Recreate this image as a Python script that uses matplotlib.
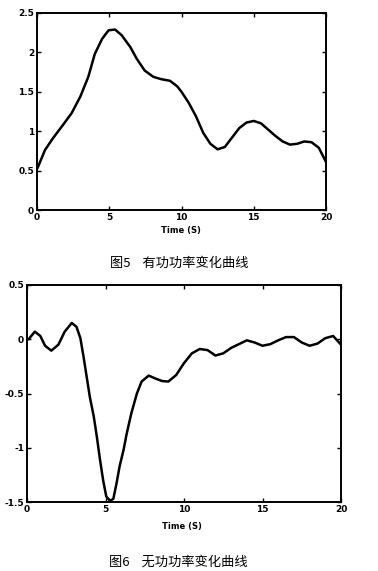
import matplotlib
matplotlib.use("Agg")
import matplotlib.pyplot as plt

plt.rcParams['font.family'] = ['Noto Sans CJK SC', 'DejaVu Sans']

# Figure 5: active power
t_p = [0, 0.1, 0.55, 1.1, 1.8, 2.4, 3.0, 3.55, 4.0, 4.5, 4.95, 5.4, 5.85, 6.45, 6.9, 7.45,
       8.05, 8.6, 9.2, 9.7, 10, 10.5, 11, 11.5, 12, 12.5, 13, 13.5, 14, 14.5, 15, 15.5,
       16, 16.5, 17, 17.5, 18, 18.5, 19, 19.5, 20]
p_vals = [0.52, 0.56, 0.76, 0.91, 1.08, 1.23, 1.44, 1.69, 1.98, 2.17, 2.28, 2.29, 2.22, 2.07,
          1.92, 1.77, 1.69, 1.66, 1.64, 1.57, 1.50, 1.36, 1.19, 0.98, 0.84, 0.77, 0.80, 0.92,
          1.04, 1.11, 1.13, 1.10, 1.02, 0.94, 0.87, 0.83, 0.84, 0.87, 0.86, 0.79, 0.61]

# Figure 6: reactive power
t_q = [0, 0.1, 0.5, 0.85, 1.15, 1.55, 2.0, 2.4, 2.85, 3.15, 3.4, 3.6, 3.8, 4.0, 4.25, 4.45,
       4.65, 4.85, 5.05, 5.3, 5.5, 5.7, 5.9, 6.15, 6.35, 6.65, 7.0, 7.3, 7.75, 8.15, 8.6,
       9.0, 9.5, 10, 10.5, 11, 11.5, 12, 12.5, 13, 13.5, 14, 14.5, 15, 15.5, 16, 16.5, 17,
       17.5, 18, 18.5, 19, 19.5, 20]
q_vals = [0.0, 0.0, 0.07, 0.03, -0.06, -0.105, -0.05, 0.07, 0.15, 0.115, 0.01, -0.16, -0.345,
          -0.53, -0.71, -0.90, -1.11, -1.30, -1.45, -1.49, -1.47, -1.33, -1.17, -1.02, -0.87,
          -0.68, -0.50, -0.39, -0.335, -0.36, -0.385, -0.39, -0.33, -0.22, -0.13, -0.09, -0.10,
          -0.15, -0.13, -0.08, -0.045, -0.01, -0.03, -0.06, -0.045, -0.01, 0.02, 0.02, -0.03,
          -0.06, -0.04, 0.01, 0.03, -0.05]

x_ticks = [0, 5, 10, 15, 20]
p_yticks = [0, 0.5, 1, 1.5, 2, 2.5]
p_ylabels = ['0', '0.5', '1', '1.5', '2', '2.5']
q_yticks = [-1.5, -1, -0.5, 0, 0.5]
q_ylabels = ['-1.5', '-1', '-0.5', '0', '0.5']
xlabel_text = 'Time (S)'
caption1 = '图5    有功功率变化曲线'
caption2 = '图6    无功功率变化曲线'

W, H = 378, 571
fig = plt.figure(figsize=(W / 100, H / 100), dpi=100)


def style(ax):
    ax.tick_params(direction='in', top=True, right=True, length=3, width=1,
                   labelsize=6.5, pad=2)
    for lbl in ax.get_xticklabels() + ax.get_yticklabels():
        lbl.set_fontweight('bold')
        lbl.set_family('DejaVu Sans')
    for s in ax.spines.values():
        s.set_linewidth(1.4)


ax1 = fig.add_axes([37 / W, 1 - 210 / H, (326 - 37) / W, (210 - 13) / H])
ax1.plot(t_p, p_vals, color='black', lw=1.8)
ax1.set_xlim(0, 20)
ax1.set_ylim(0, 2.5)
ax1.set_xticks(x_ticks)
ax1.set_yticks(p_yticks)
ax1.set_yticklabels(p_ylabels)
style(ax1)
fig.text(181 / W, 1 - 230 / H, xlabel_text, ha='center', va='center', fontsize=6,
         fontweight='bold', family='DejaVu Sans')
fig.text(179 / W, 1 - 263 / H, caption1, ha='center', va='center', fontsize=9.5)

ax2 = fig.add_axes([27 / W, 1 - 502 / H, (341 - 27) / W, (502 - 285) / H])
ax2.plot(t_q, q_vals, color='black', lw=1.8)
ax2.set_xlim(0, 20)
ax2.set_ylim(-1.5, 0.5)
ax2.set_xticks(x_ticks)
ax2.set_yticks(q_yticks)
ax2.set_yticklabels(q_ylabels)
style(ax2)
fig.text(182 / W, 1 - 527 / H, xlabel_text, ha='center', va='center', fontsize=6,
         fontweight='bold', family='DejaVu Sans')
fig.text(178 / W, 1 - 562 / H, caption2, ha='center', va='center', fontsize=9.5)

fig.savefig('out.png', dpi=100)
